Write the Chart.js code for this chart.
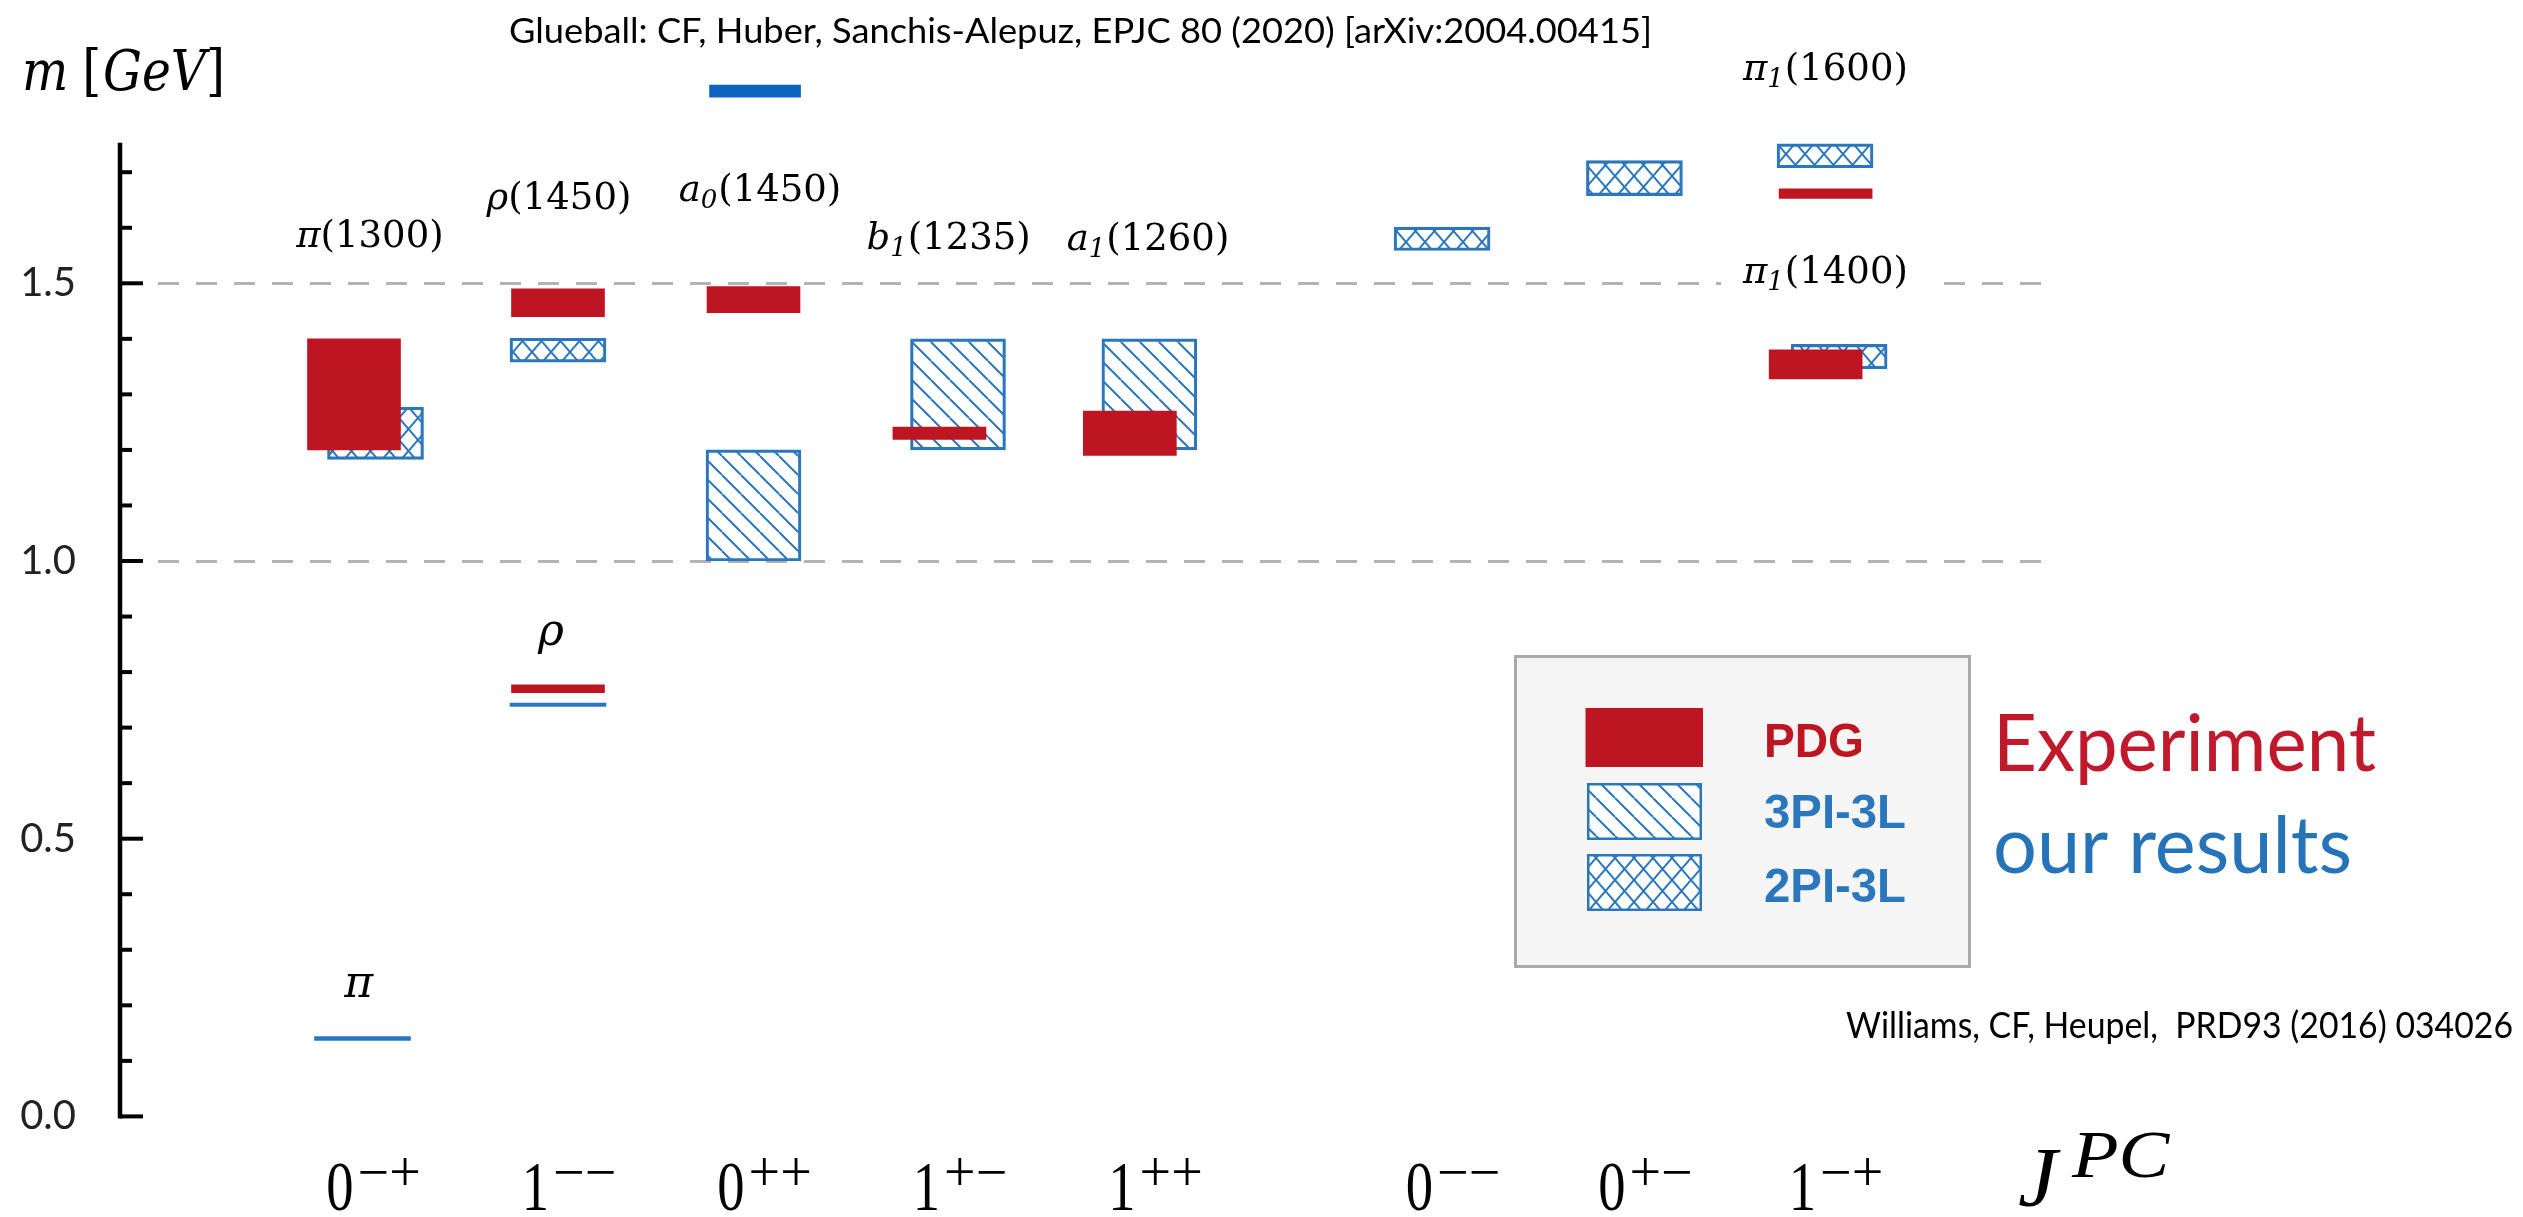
<!DOCTYPE html>
<html>
<head>
<meta charset="utf-8">
<title>Light meson spectrum by J^PC</title>
<script src="https://cdn.jsdelivr.net/npm/chart.js@4/dist/chart.umd.min.js"></script>
<style>
  html, body { margin: 0; padding: 0; background: #ffffff; }
  #wrap { width: 2523px; height: 1217px; }
</style>
</head>
<body>
<div id="wrap"><canvas id="spectrum" width="2523" height="1217"></canvas></div>
<script>
// ---------------- data ----------------
// J^PC channels along the horizontal axis
const channelSpin = ['0', '1', '0', '1', '1', '0', '0', '1'];
const channelPC   = ['\u2212+', '\u2212\u2212', '++', '+\u2212', '++', '\u2212\u2212', '+\u2212', '\u2212+'];

// PDG (experiment): mass bands in GeV
const pdgName    = ['π(1300)', 'ρ(770)', 'ρ(1450)', 'a0(1450)', 'b1(1235)', 'a1(1260)', 'π1(1400)', 'π1(1600)'];
const pdgChannel = [0, 1, 1, 2, 3, 4, 7, 7];
const pdgLow     = [1.200, 0.763, 1.440, 1.447, 1.219, 1.190, 1.328, 1.653];
const pdgHigh    = [1.400, 0.777, 1.490, 1.494, 1.241, 1.270, 1.380, 1.670];

// 3PI-3L truncation: mass bands in GeV
const pi3Channel = [2, 3, 4];
const pi3Low     = [1.000, 1.200, 1.200];
const pi3High    = [1.200, 1.400, 1.400];

// 2PI-3L truncation: mass bands in GeV
const pi2Channel = [0, 1, 5, 6, 7, 7];
const pi2Low     = [1.183, 1.358, 1.559, 1.658, 1.346, 1.708];
const pi2High    = [1.277, 1.401, 1.601, 1.721, 1.390, 1.751];

// ground states π and ρ (GeV)
const groundChannel = [0, 1];
const groundLow     = [0.137, 0.738];
const groundHigh    = [0.1435, 0.744];

// scalar glueball (GeV)
const glueChannel = [2];
const glueLow     = [1.835];
const glueHigh    = [1.857];

// y axis ticks
const yLabelStep = 0.5;
const yMinorStep = 0.1;
const yAxisTop   = 1.753;

// ---------------- layout ----------------
// position of each channel on the horizontal (linear) scale
const channelPos = [1, 2, 3, 4, 5, 6.522, 7.506, 8.481];
// small side shifts inside a channel so overlapping bands stay visible
const pdgShift    = [-0.0435, 0, 0, 0, -0.049, -0.075, -0.048, 0.003];
const pi3Shift    = [0, 0.046, 0.025];
const pi2Shift    = [0.0665, 0, 0, 0, 0.072, 0];
const groundShift = [0, 0];
const glueShift   = [0.008];

const X_MIN = -0.24041, X_MAX = 9.66752;

const RED   = '#bd1622';
const BLUE  = '#2a77bd';
const GLUE  = '#0a64c0';
const TEXT_RED  = '#c0192c';
const TEXT_BLUE = '#2573b9';

// state names written next to the bands
const stateLabels = [
  { ch: 0, dx:  0.038, m: 1.565, base: 'π', sub: '',  tail: '(1300)' },
  { ch: 1, dx:  0.005, m: 1.634, base: 'ρ', sub: '',  tail: '(1450)' },
  { ch: 2, dx:  0.033, m: 1.648, base: 'a', sub: '0', tail: '(1450)' },
  { ch: 3, dx: -0.002, m: 1.562, base: 'b', sub: '1', tail: '(1235)' },
  { ch: 4, dx:  0.018, m: 1.560, base: 'a', sub: '1', tail: '(1260)' },
  { ch: 7, dx:  0.002, m: 1.866, base: 'π', sub: '1', tail: '(1600)' },
  { ch: 7, dx:  0.002, m: 1.5006, base: 'π', sub: '1', tail: '(1400)', knockout: true },
  { ch: 1, dx: -0.036, m: 0.849, base: 'ρ', sub: '',  tail: '', big: true },
  { ch: 0, dx: -0.020, m: 0.215, base: 'π', sub: '',  tail: '', big: true }
];

// ---------------- fill patterns ----------------
function diagonalPattern(ctx) {
  const s = 19;
  const c = document.createElement('canvas');
  c.width = s; c.height = s;
  const g = c.getContext('2d');
  g.strokeStyle = BLUE; g.lineWidth = 2;
  g.beginPath();
  g.moveTo(-s, 0); g.lineTo(0, s);
  g.moveTo(0, 0);  g.lineTo(s, s);
  g.moveTo(s, 0);  g.lineTo(2 * s, s);
  g.stroke();
  return ctx.createPattern(c, 'repeat');
}
function crossPattern(ctx) {
  const w = 19, h = 22;
  const c = document.createElement('canvas');
  c.width = w; c.height = h;
  const g = c.getContext('2d');
  g.strokeStyle = BLUE; g.lineWidth = 2;
  g.beginPath();
  g.moveTo(-w, 0); g.lineTo(0, h);
  g.moveTo(0, 0);  g.lineTo(w, h);
  g.moveTo(w, 0);  g.lineTo(2 * w, h);
  g.moveTo(0, 0);  g.lineTo(-w, h);
  g.moveTo(w, 0);  g.lineTo(0, h);
  g.moveTo(2 * w, 0); g.lineTo(w, h);
  g.stroke();
  return ctx.createPattern(c, 'repeat');
}

const canvas = document.getElementById('spectrum');
const ctx0 = canvas.getContext('2d');
const HATCH = diagonalPattern(ctx0);
const CROSS = crossPattern(ctx0);

function bands(channel, shift, low, high) {
  return channel.map((ch, i) => ({ x: channelPos[ch] + shift[i], y: [low[i], high[i]] }));
}

// ---------------- text helpers ----------------
function fitText(ctx, text, font, color, x, y, width, align) {
  ctx.save();
  ctx.font = font;
  ctx.fillStyle = color;
  ctx.textAlign = 'left';
  ctx.textBaseline = 'alphabetic';
  const w = ctx.measureText(text).width;
  const k = width ? width / w : 1;
  const drawn = w * k;
  const left = align === 'center' ? x - drawn / 2 : (align === 'right' ? x - drawn : x);
  ctx.translate(left, y);
  ctx.scale(k, 1);
  ctx.fillText(text, 0, 0);
  ctx.restore();
}
function scaledText(ctx, text, font, color, x, y, k) {
  ctx.save();
  ctx.font = font;
  ctx.fillStyle = color;
  ctx.textAlign = 'left';
  ctx.textBaseline = 'alphabetic';
  ctx.translate(x, y);
  ctx.scale(k, 1);
  ctx.fillText(text, 0, 0);
  ctx.restore();
}

function segmentsWidth(ctx, segs) {
  let w = 0;
  segs.forEach(s => { ctx.font = s.font; w += ctx.measureText(s.t).width + (s.gap || 0); });
  return w;
}
function drawSegments(ctx, segs, cx, baseline, color) {
  ctx.save();
  ctx.fillStyle = color;
  ctx.textAlign = 'left';
  ctx.textBaseline = 'alphabetic';
  const total = segmentsWidth(ctx, segs);
  let x = cx - total / 2;
  segs.forEach(s => {
    ctx.font = s.font;
    ctx.fillText(s.t, x, baseline + (s.dy || 0));
    x += ctx.measureText(s.t).width + (s.gap || 0);
  });
  ctx.restore();
  return total;
}

const SERIF_M  = '"DejaVu Serif", "Liberation Serif", serif';
const SERIF_CM = '"Liberation Serif", "DejaVu Serif", serif';
const SANS     = 'Lato, "Open Sans", "Liberation Sans", sans-serif';

// ---------------- decorations drawn with the chart ----------------
const decor = {
  id: 'decor',
  beforeDraw(chart) {
    const c = chart.ctx;
    c.save();
    c.fillStyle = '#ffffff';
    c.fillRect(0, 0, chart.width, chart.height);
    c.restore();
  },
  afterDatasetsDraw(chart) {
    const c = chart.ctx;
    const xs = chart.scales.x, ys = chart.scales.y;
    const axisX = chart.chartArea.left;

    // vertical axis with inward ticks
    c.save();
    c.strokeStyle = '#000000';
    c.lineWidth = 4.5;
    c.beginPath();
    c.moveTo(axisX, ys.getPixelForValue(0) + 2);
    c.lineTo(axisX, ys.getPixelForValue(yAxisTop));
    c.stroke();
    c.lineWidth = 4;
    const nMinor = Math.floor(yAxisTop / yMinorStep + 1e-9);
    for (let i = 0; i <= nMinor; i++) {
      const v = i * yMinorStep;
      const major = Math.abs(v / yLabelStep - Math.round(v / yLabelStep)) < 1e-6;
      const py = ys.getPixelForValue(v);
      c.beginPath();
      c.moveTo(axisX, py);
      c.lineTo(axisX + (major ? 23 : 12), py);
      c.stroke();
    }
    c.restore();

    // state names
    stateLabels.forEach(L => {
      const cx = xs.getPixelForValue(channelPos[L.ch] + L.dx);
      const by = ys.getPixelForValue(L.m);
      const segs = [{ t: L.base, font: 'italic ' + (L.big ? 44 : 37) + 'px ' + SERIF_M }];
      if (L.sub) segs.push({ t: L.sub, font: 'italic 26px ' + SERIF_M, dy: 7, gap: 1 });
      if (L.tail) segs.push({ t: L.tail, font: '37px ' + SERIF_M });
      if (L.knockout) {
        const w = segmentsWidth(c, segs);
        c.save();
        c.fillStyle = '#ffffff';
        c.fillRect(cx - w / 2 - 22, by - 30, w + 44, 44);
        c.restore();
      }
      drawSegments(c, segs, cx, by, '#000000');
    });

    // J^PC channel labels under the axis
    channelSpin.forEach((j, i) => {
      const cx = xs.getPixelForValue(channelPos[i]) + 11;
      c.save();
      c.font = '70px ' + SERIF_CM;
      const dw = c.measureText(j).width * 0.78;
      c.font = '56px ' + SERIF_CM;
      const sw = c.measureText(channelPC[i]).width;
      const total = dw + 4 + sw;
      const left = cx - total / 2;
      c.fillStyle = '#000000';
      c.textBaseline = 'alphabetic';
      c.textAlign = 'left';
      scaledText(c, j, '70px ' + SERIF_CM, '#000000', left, 1210, 0.78);
      c.font = '56px ' + SERIF_CM;
      c.fillText(channelPC[i], left + dw + 4, 1191);
      c.restore();
    });

    // axis titles
    scaledText(c, 'J', 'italic 84px ' + SERIF_CM, '#000000', 2018, 1206, 1.05);
    scaledText(c, 'PC', 'italic 68px ' + SERIF_CM, '#000000', 2072, 1177, 1.12);

    const mSegs = [
      { t: 'm', font: 'italic 56px ' + SERIF_M, gap: 16 },
      { t: '[', font: '56px ' + SERIF_M, gap: 2 },
      { t: 'GeV', font: 'italic 56px ' + SERIF_M },
      { t: ']', font: '56px ' + SERIF_M }
    ];
    c.save();
    const mw = segmentsWidth(c, mSegs);
    c.translate(22, 0);
    c.scale(203 / mw, 1);
    drawSegments(c, mSegs, mw / 2, 90, '#000000');
    c.restore();

    // references
    fitText(c, 'Glueball: CF, Huber, Sanchis-Alepuz, EPJC 80 (2020) [arXiv:2004.00415]',
      '34px ' + SANS, '#000000', 509, 43, 1143);
    fitText(c, 'Williams, CF, Heupel,  PRD93 (2016) 034026',
      '36px ' + SANS, '#000000', 1846, 1038, 667);

    // legend
    c.save();
    c.fillStyle = '#f5f5f5';
    c.fillRect(1514, 655, 457, 313);
    c.strokeStyle = '#aaaaaa';
    c.lineWidth = 3;
    c.strokeRect(1515.5, 656.5, 454, 310);
    c.fillStyle = RED;
    c.fillRect(1585.5, 708, 117.5, 59);
    [[HATCH, 783], [CROSS, 854]].forEach(([pat, top]) => {
      c.fillStyle = '#ffffff';
      c.fillRect(1587, top, 115, 57);
      c.fillStyle = pat;
      c.fillRect(1587, top, 115, 57);
      c.strokeStyle = BLUE;
      c.lineWidth = 2.5;
      c.strokeRect(1588.25, top + 1.25, 112.5, 54.5);
    });
    c.restore();
    const legendFont = 'bold 49px "Liberation Sans Narrow", "Liberation Sans", Arial, sans-serif';
    fitText(c, 'PDG', legendFont, RED, 1764, 757, 100);
    fitText(c, '3PI-3L', legendFont, BLUE, 1764, 828, 142);
    fitText(c, '2PI-3L', legendFont, BLUE, 1764, 902, 142);

    fitText(c, 'Experiment', '79px ' + SANS, TEXT_RED, 1993, 771, 383);
    fitText(c, 'our results', '79px ' + SANS, TEXT_BLUE, 1993, 873, 359);
  }
};

// ---------------- chart ----------------
new Chart(canvas, {
  type: 'bar',
  data: {
    datasets: [
      {
        label: 'PDG',
        data: bands(pdgChannel, pdgShift, pdgLow, pdgHigh),
        backgroundColor: RED,
        borderWidth: 0,
        barThickness: 93,
        grouped: false,
        order: 0
      },
      {
        label: 'ground states',
        data: bands(groundChannel, groundShift, groundLow, groundHigh),
        backgroundColor: BLUE,
        borderWidth: 0,
        barThickness: 96,
        grouped: false,
        order: 1
      },
      {
        label: 'glueball',
        data: bands(glueChannel, glueShift, glueLow, glueHigh),
        backgroundColor: GLUE,
        borderWidth: 0,
        barThickness: 91,
        grouped: false,
        order: 1
      },
      {
        label: '3PI-3L',
        data: bands(pi3Channel, pi3Shift, pi3Low, pi3High),
        backgroundColor: HATCH,
        borderColor: BLUE,
        borderWidth: 2.5,
        borderSkipped: false,
        barThickness: 95,
        grouped: false,
        order: 2
      },
      {
        label: '2PI-3L',
        data: bands(pi2Channel, pi2Shift, pi2Low, pi2High),
        backgroundColor: CROSS,
        borderColor: BLUE,
        borderWidth: 2.5,
        borderSkipped: false,
        barThickness: 96,
        grouped: false,
        order: 2
      }
    ]
  },
  options: {
    responsive: false,
    animation: false,
    devicePixelRatio: 1,
    layout: { padding: { left: 20, right: 2523 - 2057, top: 5.6, bottom: 100.6 } },
    plugins: {
      legend: { display: false },
      tooltip: { enabled: false },
      title: { display: false }
    },
    scales: {
      x: { type: 'linear', min: X_MIN, max: X_MAX, display: false, offset: false },
      y: {
        type: 'linear',
        min: 0,
        max: 2.0,
        afterFit: s => { s.width = 100; s.paddingTop = 0; s.paddingBottom = 0; },
        border: { display: false, dash: [21, 17] },
        grid: {
          drawTicks: false,
          lineWidth: 3,
          color: c => (c.tick && (Math.abs(c.tick.value - 1) < 1e-9 || Math.abs(c.tick.value - 1.5) < 1e-9))
            ? '#b3b3b3' : 'rgba(0,0,0,0)'
        },
        ticks: {
          stepSize: yLabelStep,
          padding: 44,
          color: '#222222',
          font: { family: SANS, size: 40 },
          callback: v => (v > yAxisTop ? null : v.toFixed(1))
        }
      }
    }
  },
  plugins: [decor]
});
</script>
</body>
</html>
